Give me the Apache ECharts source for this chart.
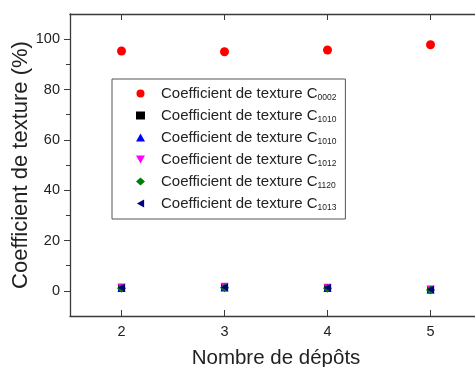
<!DOCTYPE html>
<html>
<head>
<meta charset="utf-8">
<script src="https://cdn.jsdelivr.net/npm/echarts@6/dist/echarts.min.js"></script>
<style>
  html, body { margin: 0; padding: 0; background: #fff; }
  #chart { width: 475px; height: 367px; }
</style>
</head>
<body>
<div id="chart"></div>
<script>
// Number of deposits on the x axis
var nbDepots = [2, 3, 4, 5];

// Texture coefficients (%) per crystallographic plane
var c0002  = [95.3, 95.0, 95.7, 97.8];
var c1010a = [1.2, 1.5, 1.2, 0.4];
var c1010b = [1.1, 1.3, 1.1, 0.5];
var c1012  = [1.5, 1.8, 1.4, 0.7];
var c1120  = [1.0, 1.2, 1.0, 0.3];
var c1013  = [1.2, 1.4, 1.2, 0.5];

// Legend labels: base text and subscript index
var legendBase = 'Coefficient de texture C';
var legendSubs = ['0002', '1010', '1010', '1012', '1120', '1013'];
var seriesNames = ['C0002', 'C1010a', 'C1010b', 'C1012', 'C1120', 'C1013'];

// Axis ticks
var xTicks = [2, 3, 4, 5];
var yMajor = [0, 20, 40, 60, 80, 100];
var yMinor = [10, 30, 50, 70, 90];

var fontFam = 'Liberation Sans, Arial, sans-serif';
var axisCol = '#3a3a3a';

// Marker shapes: triangles pointing down and left are drawn as paths
var triDown = 'path://M0,0 L10,0 L5,9 Z';
var triLeft = 'path://M9,0 L9,10 L0,5 Z';

function pairs(ys) {
  return nbDepots.map(function (x, i) { return [x, ys[i]]; });
}

var seriesDefs = [
  { data: c0002,  symbol: 'circle',   color: '#ff0000', size: 9 },
  { data: c1010a, symbol: 'rect',     color: '#000000', size: 7 },
  { data: c1010b, symbol: 'triangle', color: '#0000ff', size: 8 },
  { data: c1012,  symbol: triDown,    color: '#ff00ff', size: 8 },
  { data: c1120,  symbol: 'diamond',  color: '#008000', size: 9 },
  { data: c1013,  symbol: triLeft,    color: '#000080', size: 8 }
];

var subMap = {};
seriesNames.forEach(function (n, i) { subMap[n] = legendSubs[i]; });

var chart = echarts.init(document.getElementById('chart'), null, { renderer: 'canvas' });

var option = {
  backgroundColor: '#ffffff',
  animation: false,
  grid: { left: 70, top: 14, width: 412, height: 302, containLabel: false, outerBoundsMode: 'none' },
  xAxis: [
    {
      type: 'value', min: 1.5, max: 5.5, position: 'bottom',
      name: 'Nombre de dépôts', nameLocation: 'middle', nameGap: 32, nameMoveOverlap: false,
      nameTextStyle: { fontFamily: fontFam, fontSize: 20.5, color: '#222' },
      axisLine: { show: true, onZero: false, lineStyle: { color: axisCol, width: 1.3 } },
      axisTick: { show: true, inside: true, length: 6, customValues: xTicks, lineStyle: { color: axisCol } },
      axisLabel: { show: true, customValues: xTicks, margin: 8, fontFamily: fontFam, fontSize: 14.5, color: '#222' },
      splitLine: { show: false }
    },
    {
      type: 'value', min: 1.5, max: 5.5, position: 'top',
      axisLine: { show: true, onZero: false, lineStyle: { color: axisCol, width: 1.3 } },
      axisTick: { show: true, inside: true, length: 6, customValues: xTicks, lineStyle: { color: axisCol } },
      axisLabel: { show: false },
      splitLine: { show: false }
    }
  ],
  yAxis: [
    {
      type: 'value', min: -10, max: 110, position: 'left',
      name: 'Coefficient de texture (%)', nameLocation: 'middle', nameGap: 38, nameRotate: 90,
      nameMoveOverlap: false,
      nameTextStyle: { fontFamily: fontFam, fontSize: 22, color: '#222' },
      axisLine: { show: true, onZero: false, lineStyle: { color: axisCol, width: 1.3 } },
      axisTick: { show: true, inside: false, length: 6, customValues: yMajor, lineStyle: { color: axisCol } },
      axisLabel: { show: true, customValues: yMajor, margin: 10, fontFamily: fontFam, fontSize: 14.5, color: '#222' },
      splitLine: { show: false }
    },
    {
      type: 'value', min: -10, max: 110, position: 'left',
      axisLine: { show: false },
      axisTick: { show: true, inside: false, length: 4, customValues: yMinor, lineStyle: { color: axisCol } },
      axisLabel: { show: false },
      splitLine: { show: false }
    }
  ],
  legend: {
    orient: 'vertical',
    left: 112, top: 79,
    padding: [7, 9, 7, 24],
    itemGap: 6,
    itemWidth: 9, itemHeight: 8,
    borderColor: '#555', borderWidth: 1,
    backgroundColor: '#fff',
    data: seriesNames,
    formatter: function (name) {
      return '{b|' + legendBase + '}{s|' + subMap[name] + '}';
    },
    textStyle: {
      fontFamily: fontFam,
      padding: [0, 0, 0, 11],
      rich: {
        b: { fontFamily: fontFam, fontSize: 15, color: '#222', height: 16 },
        s: { fontFamily: fontFam, fontSize: 8.5, color: '#222', verticalAlign: 'bottom', padding: [8, 0, 0, 0], height: 16 }
      }
    }
  },
  series: seriesDefs.map(function (d, i) {
    return {
      name: seriesNames[i],
      type: 'scatter',
      xAxisIndex: 0, yAxisIndex: 0,
      data: pairs(d.data),
      symbol: d.symbol,
      symbolSize: d.size,
      symbolKeepAspect: true,
      itemStyle: { color: d.color, opacity: 1 },
      z: 2 + i
    };
  })
};

chart.setOption(option);
</script>
</body>
</html>
